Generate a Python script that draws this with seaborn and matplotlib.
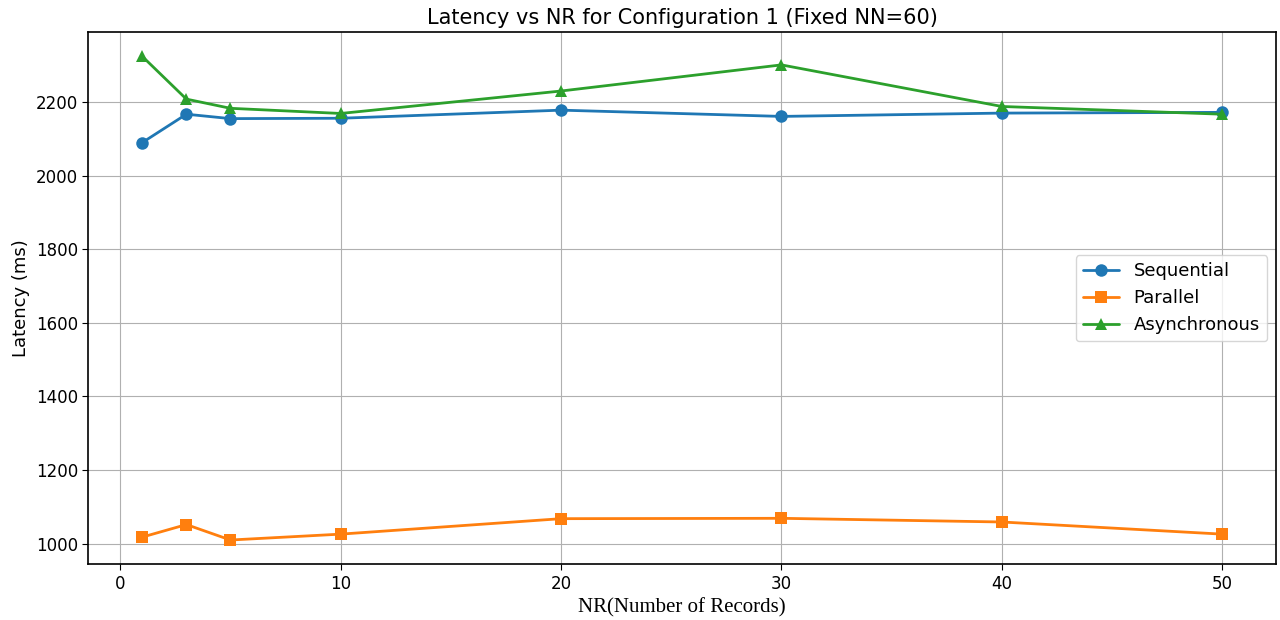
import matplotlib
matplotlib.use("Agg")
import matplotlib.pyplot as plt
import seaborn as sns
import pandas as pd

nr_values = [1, 3, 5, 10, 20, 30, 40, 50]
sequential = [2090, 2167, 2155, 2156, 2178, 2161, 2170, 2172]
parallel = [1018, 1052, 1010, 1026, 1068, 1069, 1059, 1026]
asynchronous = [2324, 2208, 2183, 2169, 2230, 2301, 2188, 2167]
series_names = ["Sequential", "Parallel", "Asynchronous"]

rows = []
for name, vals in zip(series_names, [sequential, parallel, asynchronous]):
    for x, y in zip(nr_values, vals):
        rows.append({"NR": x, "Latency": y, "Method": name})
df = pd.DataFrame(rows)

sns.set_style("ticks")
plt.rcParams['font.family'] = ['DejaVu Sans']
plt.rcParams['text.color'] = 'black'
plt.rcParams['axes.labelcolor'] = 'black'
plt.rcParams['xtick.color'] = 'black'
plt.rcParams['ytick.color'] = 'black'

fig, ax = plt.subplots(figsize=(12.8, 6.2), dpi=100)
fig.subplots_adjust(left=0.069, right=0.997, top=0.948, bottom=0.090)

palette = {"Sequential": "#1f77b4", "Parallel": "#ff7f0e", "Asynchronous": "#2ca02c"}
sns.lineplot(data=df, x="NR", y="Latency", hue="Method", style="Method",
             markers={"Sequential": "o", "Parallel": "s", "Asynchronous": "^"},
             dashes=False, palette=palette, markersize=9, linewidth=2,
             markeredgewidth=0, ax=ax)

ax.grid(True, color="#b0b0b0", linewidth=0.8)
for s in ax.spines.values():
    s.set_color("black")
    s.set_linewidth(1.2)
ax.tick_params(axis="both", labelsize=12, color="black", length=4)
ax.set_title("Latency vs NR for Configuration 1 (Fixed NN=60)", fontsize=15)
ax.set_xlabel("NR(Number of Records)", fontsize=15, family=["Liberation Serif"])
ax.set_ylabel("Latency (ms)", fontsize=13)
ax.set_xticks([0, 10, 20, 30, 40, 50])
ax.set_yticks([1000, 1200, 1400, 1600, 1800, 2000, 2200])
leg = ax.legend(loc="center right", fontsize=13, title=None)

fig.savefig("out.png", dpi=100)
